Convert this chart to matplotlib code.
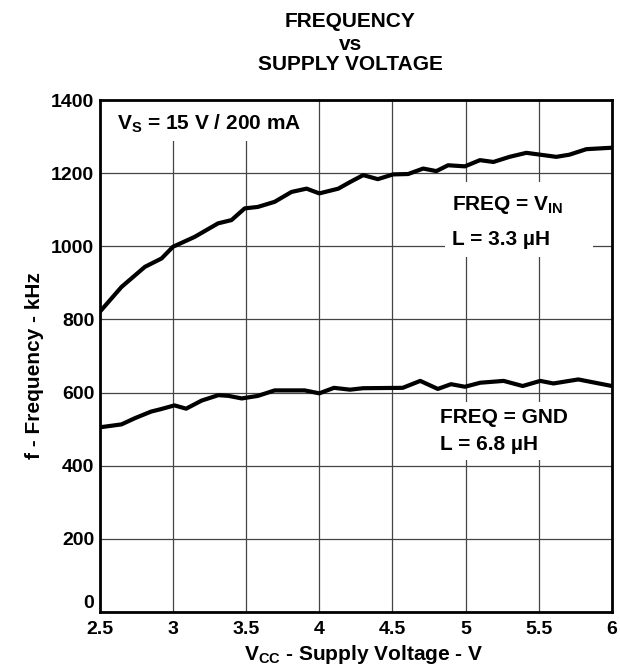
#!/usr/bin/env python3
"""
Frequency vs supply voltage chart (datasheet style).
"""

import matplotlib
matplotlib.use("Agg")
import matplotlib.pyplot as plt
from matplotlib.patches import Rectangle

# Curve data (V, kHz)
v_vin = [2.5, 2.648, 2.808, 2.922, 3.0, 3.148, 3.308, 3.4, 3.49, 3.58, 3.695,
         3.81, 3.913, 4.0, 4.13, 4.21, 4.30, 4.40, 4.505, 4.607, 4.71, 4.80,
         4.88, 4.995, 5.098, 5.19, 5.30, 5.415, 5.508, 5.62, 5.71, 5.825, 6.0]
f_vin = [821, 889, 944, 967, 999, 1026, 1063, 1072, 1104, 1108, 1122,
         1149, 1158, 1145, 1158, 1176, 1195, 1184, 1197, 1198, 1213, 1206,
         1222, 1219, 1236, 1231, 1245, 1256, 1251, 1245, 1251, 1266, 1270]

v_gnd = [2.5, 2.648, 2.74, 2.85, 2.92, 3.01, 3.09, 3.195, 3.31, 3.38, 3.47,
         3.58, 3.695, 3.90, 4.0, 4.10, 4.21, 4.30, 4.57, 4.69, 4.81, 4.90,
         4.995, 5.10, 5.26, 5.39, 5.51, 5.60, 5.77, 6.0]
f_gnd = [505, 513, 530, 548, 555, 565, 556, 578, 593, 591, 584,
         591, 606, 606, 598, 613, 608, 612, 613, 632, 610, 623,
         616, 627, 632, 618, 632, 625, 636, 618]

x_ticks = [2.5, 3, 3.5, 4, 4.5, 5, 5.5, 6]
x_labels = ["2.5", "3", "3.5", "4", "4.5", "5", "5.5", "6"]
y_ticks = [0, 200, 400, 600, 800, 1000, 1200, 1400]

FS = 15      # labels, title, notes
TICK_FS = 14

plt.rcParams['font.family'] = ['Liberation Sans', 'DejaVu Sans']
plt.rcParams['font.weight'] = 'bold'
plt.rcParams['mathtext.fontset'] = 'custom'
plt.rcParams['mathtext.rm'] = 'Liberation Sans:bold'
plt.rcParams['mathtext.bf'] = 'Liberation Sans:bold'
plt.rcParams['mathtext.it'] = 'Liberation Sans:bold'

fig = plt.figure(figsize=(6.2, 6.68), dpi=100)
ax = fig.add_axes([0.161, 0.084, 0.826, 0.766])

ax.plot(v_vin, f_vin, color='black', lw=3, solid_capstyle='round', zorder=3)
ax.plot(v_gnd, f_gnd, color='black', lw=3, solid_capstyle='round', zorder=3)

ax.set_xlim(2.5, 6)
ax.set_ylim(0, 1400)
ax.set_xticks(x_ticks)
ax.set_xticklabels(x_labels)
ax.set_yticks(y_ticks)
ax.tick_params(length=0, labelsize=TICK_FS)
ax.tick_params(axis='x', pad=6.5)
ax.tick_params(axis='y', pad=4)
for lbl in ax.get_xticklabels() + ax.get_yticklabels():
    lbl.set_fontweight('bold')
# the reference sets the "0" label slightly above the bottom axis line
ax.get_yticklabels()[0].set_va('bottom')
ax.grid(True, color='#444444', lw=0.9, zorder=1)
for s in ax.spines.values():
    s.set_linewidth(2)
    s.set_zorder(4)

# axis labels
fig.text(364 / 620, 1 - 660 / 668, r'V$_{\mathrm{CC}}$ - Supply Voltage - V',
         ha='center', va='baseline', fontsize=FS, fontweight='bold')
fig.text(35 / 620, 1 - 366 / 668, 'f - Frequency - kHz', rotation=90,
         ha='center', va='center', fontsize=FS, fontweight='bold')

# title
fig.text(0.565, 0.968, 'FREQUENCY', ha='center', va='center',
         fontsize=FS, fontweight='bold')
fig.text(0.565, 0.934, 'vs', ha='center', va='center',
         fontsize=FS, fontweight='bold')
fig.text(0.565, 0.903, 'SUPPLY VOLTAGE', ha='center', va='center',
         fontsize=FS, fontweight='bold')

# white patches behind the notes (they hide the grid)
for x0, y0, w, h in [(0.0, 0.92, 0.41, 0.08),
                     (0.674, 0.693, 0.289, 0.147),
                     (0.648, 0.297, 0.29, 0.113)]:
    ax.add_patch(Rectangle((x0, y0), w, h, transform=ax.transAxes,
                           facecolor='white', edgecolor='none', zorder=2))

ax.text(0.033, 0.953, r'V$_{\mathrm{S}}$ = 15 V / 200 mA', transform=ax.transAxes,
        fontsize=FS, fontweight='bold', va='center', ha='left', zorder=2.5)
ax.text(0.687, 0.795, r'FREQ = V$_{\mathrm{IN}}$', transform=ax.transAxes,
        fontsize=FS, fontweight='bold', va='center', ha='left', zorder=2.5)
ax.text(0.687, 0.727, 'L = 3.3 µH', transform=ax.transAxes,
        fontsize=FS, fontweight='bold', va='center', ha='left', zorder=2.5)
ax.text(0.664, 0.380, 'FREQ = GND', transform=ax.transAxes,
        fontsize=FS, fontweight='bold', va='center', ha='left', zorder=2.5)
ax.text(0.664, 0.328, 'L = 6.8 µH', transform=ax.transAxes,
        fontsize=FS, fontweight='bold', va='center', ha='left', zorder=2.5)

fig.savefig('out.png', dpi=100, facecolor='white')
